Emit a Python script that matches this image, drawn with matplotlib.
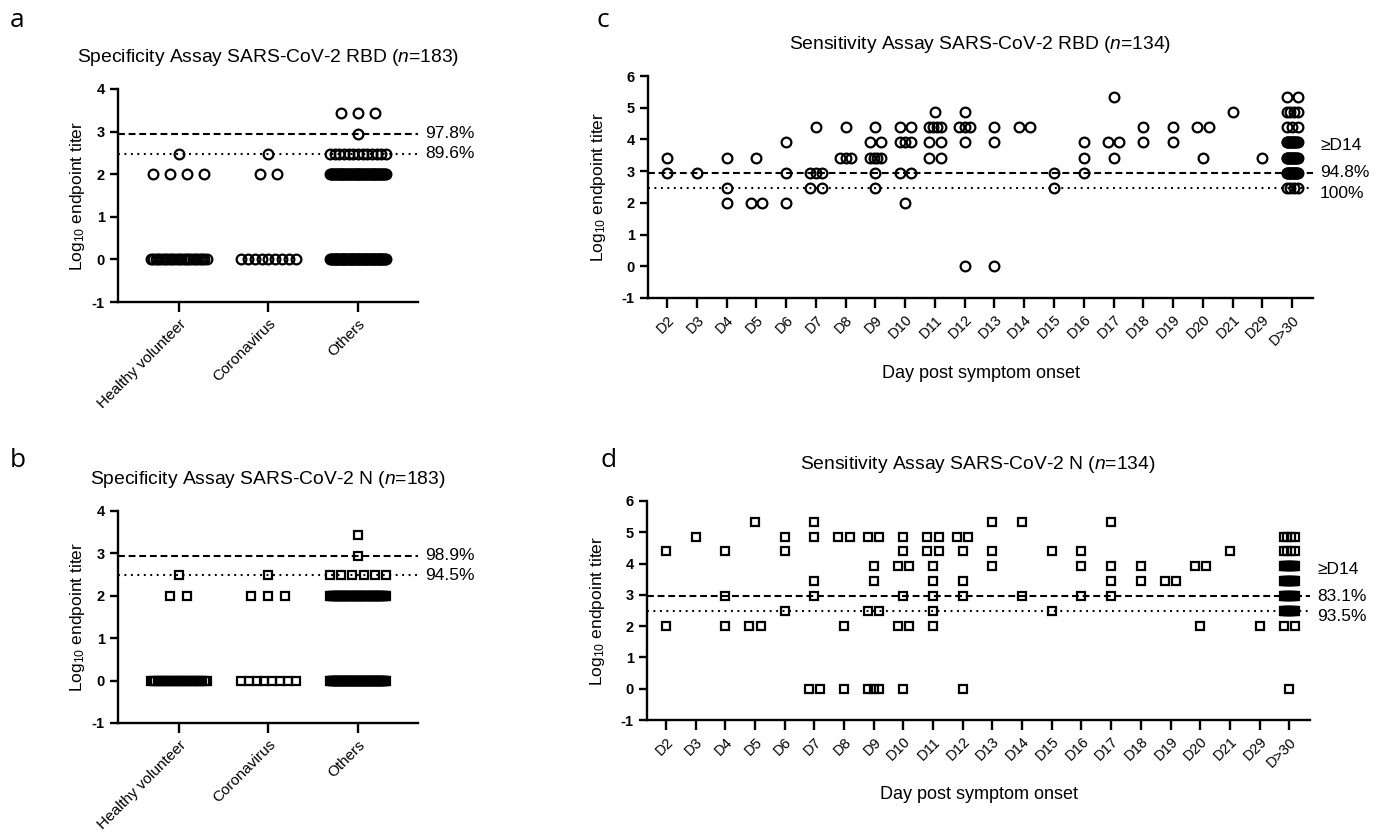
import numpy as np
import matplotlib
matplotlib.use("Agg")
import matplotlib.pyplot as plt

plt.rcParams['font.family'] = ['Liberation Sans', 'DejaVu Sans']
plt.rcParams['mathtext.fontset'] = 'custom'
plt.rcParams['mathtext.rm'] = 'Liberation Sans'
plt.rcParams['mathtext.it'] = 'Liberation Sans:italic'
plt.rcParams['axes.unicode_minus'] = False

# log10 endpoint titers sit on the 100*3^k dilution steps
groups = ["Healthy volunteer", "Coronavirus", "Others"]
spec_levels = [0.0, 2.0, 2.48, 2.95, 3.43]
rbd_spec_counts = [[25, 4, 1, 0, 0], [9, 2, 1, 0, 0], [64, 60, 13, 1, 3]]
n_spec_counts = [[27, 2, 1, 0, 0], [8, 3, 1, 0, 0], [73, 60, 6, 1, 1]]

days = ["D2", "D3", "D4", "D5", "D6", "D7", "D8", "D9", "D10", "D11", "D12",
        "D13", "D14", "D15", "D16", "D17", "D18", "D19", "D20", "D21", "D29", "D>30"]

rbd_sens = [
    [3.43, 2.95],
    [2.95],
    [3.43, 2.48, 2.0],
    [3.43, 2.0, 2.0],
    [3.91, 2.95, 2.0],
    [4.39, 2.95, 2.95, 2.95, 2.48, 2.48],
    [4.39, 3.43, 3.43, 3.43],
    [4.39, 3.91, 3.91, 3.43, 3.43, 3.43, 3.43, 2.95, 2.48],
    [4.39, 4.39, 3.91, 3.91, 3.91, 2.95, 2.95, 2.0],
    [4.86, 4.39, 4.39, 4.39, 4.39, 3.91, 3.91, 3.43, 3.43],
    [4.86, 4.39, 4.39, 4.39, 3.91, 0.0],
    [4.39, 3.91, 0.0],
    [4.39, 4.39],
    [2.95, 2.48],
    [3.91, 3.43, 2.95],
    [5.34, 3.91, 3.91, 3.43],
    [4.39, 3.91],
    [4.39, 3.91],
    [4.39, 4.39, 3.43],
    [4.86],
    [3.43],
    [5.34]*2 + [4.86]*4 + [4.39]*3 + [3.91]*14 + [3.43]*14 + [2.95]*16 + [2.48]*4,
]

n_sens = [
    [4.39, 2.0],
    [4.86],
    [4.39, 2.95, 2.0],
    [5.34, 2.0, 2.0],
    [4.86, 4.39, 2.48],
    [5.34, 4.86, 3.43, 2.95, 0.0, 0.0],
    [4.86, 4.86, 2.0, 0.0],
    [4.86, 4.86, 3.91, 3.43, 2.48, 2.48, 0.0, 0.0, 0.0],
    [4.86, 4.39, 3.91, 3.91, 2.95, 2.0, 2.0, 0.0],
    [4.86, 4.86, 4.39, 4.39, 3.91, 3.43, 2.95, 2.48, 2.0],
    [4.86, 4.86, 4.39, 3.43, 2.95, 0.0],
    [5.34, 4.39, 3.91],
    [5.34, 2.95],
    [4.39, 2.48],
    [4.39, 3.91, 2.95],
    [5.34, 3.91, 3.43, 2.95],
    [3.91, 3.43],
    [3.43, 3.43],
    [3.91, 3.91, 2.0],
    [4.39],
    [2.0],
    [4.86]*4 + [4.39]*4 + [3.91]*12 + [3.43]*12 + [2.95]*11 + [2.48]*11 + [2.0]*2 + [0.0],
]

cut_high = 2.95   # dashed cutoff
cut_low = 2.48    # dotted cutoff

W, H = 1384, 836
fig = plt.figure(figsize=(W/100, H/100), dpi=100)


def px_axes(l, t, r, b):
    return fig.add_axes([l/W, 1 - b/H, (r - l)/W, (b - t)/H])


def scatter_cols(ax, cols, step, max_half, marker, ms):
    for i, vals in enumerate(cols):
        vals = np.asarray(vals, dtype=float)
        for lv in np.unique(vals):
            n = int(np.sum(vals == lv))
            off = (np.arange(n) - (n - 1)/2) * step
            if n > 1 and off[-1] > max_half:
                off = off * max_half / off[-1]
            ax.plot(i + off, np.full(n, lv), ls='none', marker=marker, ms=ms,
                    mfc='none', mec='k', mew=1.6, clip_on=False, zorder=3)


def style(ax, ymax):
    for s in ['top', 'right']:
        ax.spines[s].set_visible(False)
    for s in ['left', 'bottom']:
        ax.spines[s].set_linewidth(1.7)
    ax.set_ylim(-1, ymax)
    ax.set_yticks(range(-1, ymax + 1))
    ax.tick_params(axis='both', width=1.7, length=6, labelsize=10.5)
    ax.tick_params(axis='x', length=7)
    for t in ax.get_yticklabels():
        t.set_fontweight('bold')
    ax.axhline(cut_high, color='k', lw=1.5, ls=(0, (3.3, 1.8)), zorder=2)
    ax.axhline(cut_low, color='k', lw=1.5, ls=(0, (0.9, 2.2)), zorder=2)
    ax.set_ylabel('Log$_{10}$ endpoint titer', fontsize=12.5)


def right_label(ax, y, s, dy=0):
    ax.annotate(s, xy=(1, y), xycoords=ax.get_yaxis_transform(),
                xytext=(5, dy), textcoords='offset points',
                va='center', ha='left', fontsize=12.5)


# ---- a / b : specificity
spec_panels = [
    ((118, 89, 418, 302), rbd_spec_counts, 'o', 7, ('97.8%', '89.6%')),
    ((118, 511, 418, 723), n_spec_counts, 's', 6.3, ('98.9%', '94.5%')),
]
for box, counts, mk, ms, pcts in spec_panels:
    ax = px_axes(*box)
    cols = [np.repeat(spec_levels, c) for c in counts]
    scatter_cols(ax, cols, 0.19, 0.31, mk, ms)
    style(ax, 4)
    ax.set_xlim(-0.68, 2.67)
    ax.set_xticks(range(len(groups)))
    ax.set_xticklabels(groups, rotation=45, ha='right', rotation_mode='anchor', fontsize=11)
    ax.yaxis.set_label_coords(-0.103, 0.5)
    right_label(ax, cut_high, pcts[0])
    right_label(ax, cut_low, pcts[1])

# ---- c / d : sensitivity
sens_panels = [
    ((648, 76, 1313, 298), rbd_sens, 'o', 7, ('94.8%', '100%')),
    ((647, 501, 1310, 720), n_sens, 's', 6.3, ('83.1%', '93.5%')),
]
for box, cols, mk, ms, pcts in sens_panels:
    ax = px_axes(*box)
    scatter_cols(ax, cols, 0.39, 0.19, mk, ms)
    style(ax, 6)
    ax.set_xlim(-0.64, len(days) - 1 + 0.7)
    ax.set_xticks(range(len(days)))
    ax.set_xticklabels(days, rotation=45, ha='right', rotation_mode='anchor', fontsize=10.5)
    ax.yaxis.set_label_coords(-0.06, 0.5)
    ax.set_xlabel('Day post symptom onset', fontsize=13)
    ax.xaxis.set_label_coords(0.5, -0.30)
    right_label(ax, 3.82, '\u2265D14')
    right_label(ax, cut_high, pcts[0])
    right_label(ax, cut_low, pcts[1], dy=-4)

# ---- titles and panel letters
titles = [
    (268, 62, 'Specificity Assay SARS-CoV-2 RBD ($n$=183)'),
    (268, 484, 'Specificity Assay SARS-CoV-2 N ($n$=183)'),
    (980, 49, 'Sensitivity Assay SARS-CoV-2 RBD ($n$=134)'),
    (978, 469, 'Sensitivity Assay SARS-CoV-2 N ($n$=134)'),
]
for x, y, s in titles:
    fig.text(x/W, 1 - y/H, s, ha='center', va='baseline', fontsize=13.9)

letters = [(10, 27, 'a'), (10, 467, 'b'), (596, 27, 'c'), (600, 467, 'd')]
for x, y, s in letters:
    fig.text(x/W, 1 - y/H, s, ha='left', va='baseline', fontsize=19,
             family=['Open Sans', 'DejaVu Sans'])

fig.savefig('out.png', dpi=100)
